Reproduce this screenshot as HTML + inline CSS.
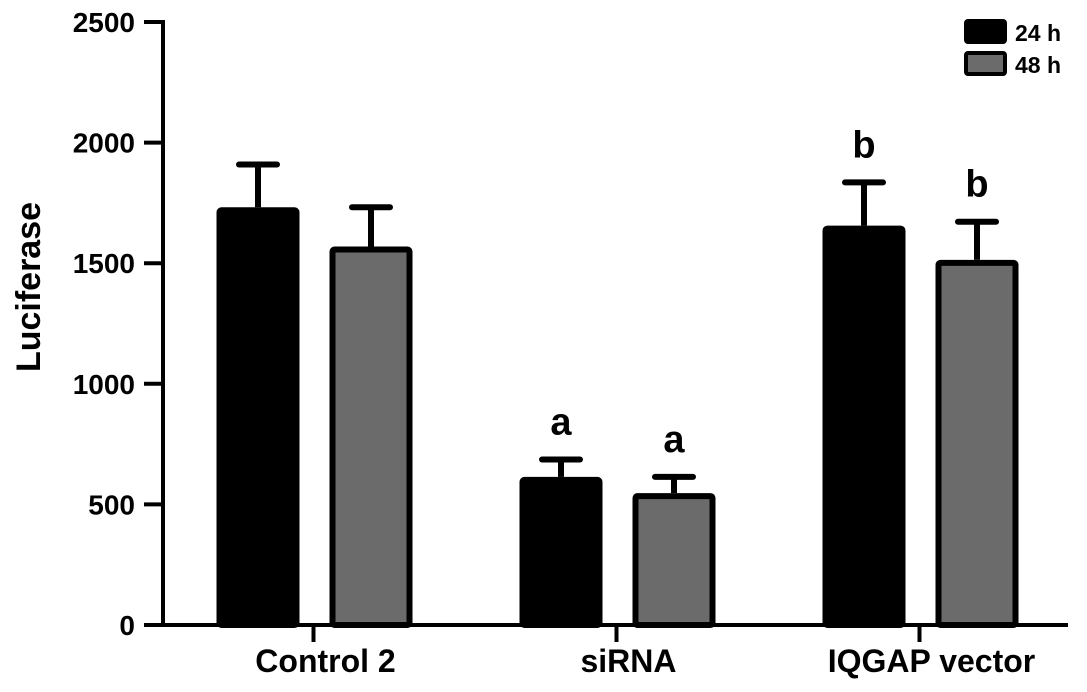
<!DOCTYPE html>
<html><head><meta charset="utf-8"><style>
body{margin:0;background:#fff;}
svg text{font-family:"Liberation Sans",Arial,sans-serif;font-weight:bold;fill:#000;}
</style></head><body>
<svg id="chart" width="1087" height="687" viewBox="0 0 1087 687">
<g id="axes"></g>
<g id="bars"></g>
<g>
<rect x="966" y="21" width="39" height="21" rx="2" fill="#000" stroke="#000" stroke-width="4"/>
<text x="1015" y="41" font-size="23">24 h</text>
<rect x="966" y="53" width="39" height="21" rx="2" fill="#6b6b6b" stroke="#000" stroke-width="4"/>
<text x="1015" y="73" font-size="23">48 h</text>
</g>
<text transform="translate(40,287) rotate(-90)" text-anchor="middle" font-size="34">Luciferase</text>
</svg>
<script>
const categories = ["Control 2", "siRNA", "IQGAP vector"];
const values24 = [1732, 614, 1656];
const err24 = [177, 72, 179];
const values48 = [1569, 547, 1514];
const err48 = [163, 67, 158];
const sigLabels24 = ["", "a", "b"];
const sigLabels48 = ["", "a", "b"];
const yTicks = [0, 500, 1000, 1500, 2000, 2500];

const NS = "http://www.w3.org/2000/svg";
const x0 = 163, xEnd = 1068, yZero = 625, yTop = 22, yMax = 2500;
function y(v){ return yZero - (v / yMax) * (yZero - yTop); }
const groupStart = 162, groupW = 303;
function groupCenter(i){ return groupStart + groupW * (i + 0.5); }
function mk(tag, attrs, parent){ const e=document.createElementNS(NS,tag); for(const k in attrs) e.setAttribute(k,attrs[k]); parent.appendChild(e); return e; }
const axes = document.getElementById('axes');
const bars = document.getElementById('bars');

let el = mk('line',{x1:x0,y1:yTop-2,x2:x0,y2:yZero+2,stroke:'#000','stroke-width':4},axes);


el = mk('line',{x1:x0,y1:yZero,x2:xEnd,y2:yZero,stroke:'#000','stroke-width':4},axes);


yTicks.forEach(t=>{
  const tk = mk('line',{x1:144,y1:y(t),x2:x0,y2:y(t),stroke:'#000','stroke-width':4},axes);
  
  
  const lb = mk('text',{x:135,y:y(t)+10,'text-anchor':'end','font-size':28},axes);
  lb.textContent = t;
  
  
});
const bw = 83;
categories.forEach((c,i)=>{
  const cx = groupCenter(i);
  const tk = mk('line',{x1:cx,y1:yZero,x2:cx,y2:642,stroke:'#000','stroke-width':4},axes);
  
  
  const lb = mk('text',{x:cx+12,y:672,'text-anchor':'middle','font-size':32},axes);
  lb.textContent = c;
  
  
  [[values24,err24,sigLabels24,cx-97,'#000','24h'],[values48,err48,sigLabels48,cx+16,'#6b6b6b','48h']].forEach(s=>{
    const [vals,errs,sig,bx,fill,nm]=s;
    const v=vals[i], e=errs[i], mid=bx+bw/2;
    const st = mk('line',{x1:mid,y1:y(v+e),x2:mid,y2:y(v),stroke:'#000','stroke-width':6},bars);
    
    
    const cap = mk('line',{x1:mid-19,y1:y(v+e),x2:mid+19,y2:y(v+e),stroke:'#000','stroke-width':6,'stroke-linecap':'round'},bars);
    
    
    const r = mk('rect',{x:bx+3,y:y(v)+3,width:bw-6,height:yZero-y(v)-3,fill:fill,stroke:'#000','stroke-width':6,rx:2},bars);
    
    
    if(sig[i]){
      const t = mk('text',{x:mid,y:y(v+e)-25,'text-anchor':'middle','font-size':38},bars);
      t.textContent = sig[i];
      
      
    }
  });
});
</script>
</body></html>
